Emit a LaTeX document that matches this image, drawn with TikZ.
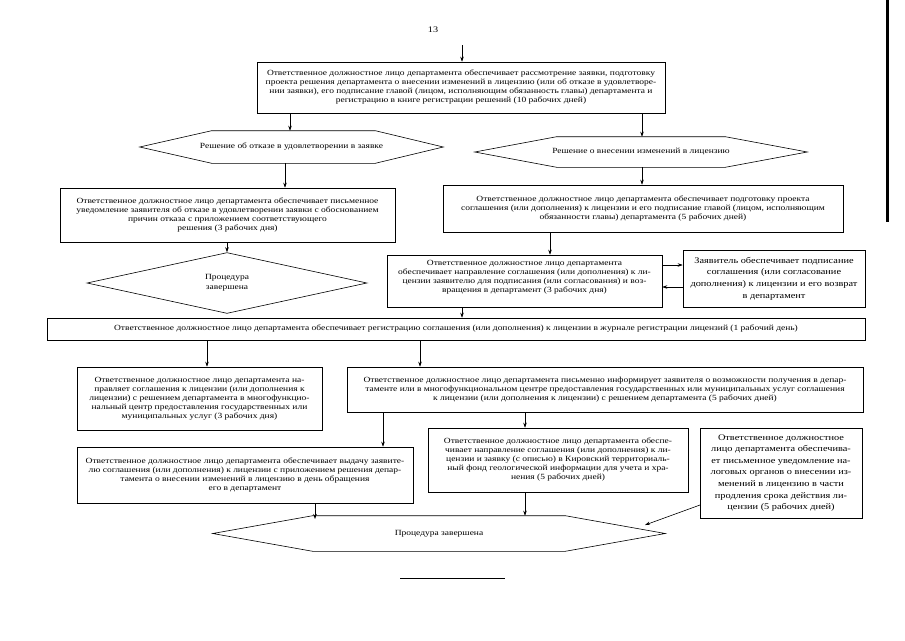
\documentclass[tikz,border=0pt]{standalone}
\usepackage{fontspec}
\setmainfont{Liberation Serif}
\newfontfamily\scan[FakeStretch=1.2]{Liberation Serif}
\usetikzlibrary{shapes.geometric,arrows.meta}
\begin{document}
\begin{tikzpicture}[x=1pt,y=-1pt,line width=0.6pt,
  box/.style={draw, rectangle, align=center, inner sep=0pt, font=\scan\fontsize{7.9}{9}\selectfont},
  bigbox/.style={box, font=\scan\fontsize{8.6}{11.6}\selectfont},
  hexa/.style={rectangle, inner sep=0pt, align=center, font=\scan\fontsize{7.9}{9}\selectfont},
  arr/.style={-{Stealth[length=5pt,width=3.5pt]}},
]
\useasboundingbox (0,0) rectangle (905,640);
\fill[white] (0,0) rectangle (905,640);

\node[font=\scan\fontsize{8.5}{10}\selectfont] (pg) at (433,30) {13};
\coordinate (top) at (462,45);

\node[box, minimum width=408pt, minimum height=51pt] (T) at (461,87.5)
 {Ответственное должностное лицо департамента обеспечивает рассмотрение заявки, подготовку\\
  проекта решения департамента о внесении изменений в лицензию (или об отказе в удовлетворе-\\
  нии заявки), его подписание главой (лицом, исполняющим обязанность главы) департамента и\\
  регистрацию в книге регистрации решений (10 рабочих дней)};

% hexagons: invisible frame node + outline
\node[hexa, minimum width=303pt, minimum height=32pt] (Lh) at (291.5,147)
 {Решение об отказе в удовлетворении в заявке};
\draw (Lh.west) -- ([xshift=72pt]Lh.north west) -- ([xshift=-68pt]Lh.north east) -- (Lh.east)
  -- ([xshift=-68pt]Lh.south east) -- ([xshift=72pt]Lh.south west) -- cycle;

\node[hexa, minimum width=332pt, minimum height=30pt] (Rh) at (641,152)
 {Решение о внесении изменений в лицензию};
\draw (Rh.west) -- ([xshift=82pt]Rh.north west) -- ([xshift=-82pt]Rh.north east) -- (Rh.east)
  -- ([xshift=-82pt]Rh.south east) -- ([xshift=82pt]Rh.south west) -- cycle;

\node[box, minimum width=335pt, minimum height=54pt] (A) at (227.5,215)
 {Ответственное должностное лицо департамента обеспечивает письменное\\
  уведомление заявителя об отказе в удовлетворении заявки с обоснованием\\
  причин отказа с приложением соответствующего\\
  решения (3 рабочих дня)};
\node[box, minimum width=400pt, minimum height=47pt] (B) at (643,208.5)
 {Ответственное должностное лицо департамента обеспечивает подготовку проекта\\
  соглашения (или дополнения) к лицензии и его подписание главой (лицом, исполняющим\\
  обязанности главы) департамента (5 рабочих дней)};

\node[draw, diamond, minimum width=280pt, minimum height=50pt, inner sep=0pt, align=center,
      font=\scan\fontsize{7.9}{10}\selectfont] (Dm) at (227,283) {Процедура\\завершена};

\node[box, minimum width=275pt, minimum height=52pt] (C) at (524.5,281)
 {Ответственное должностное лицо департамента\\
  обеспечивает направление соглашения (или дополнения) к ли-\\
  цензии заявителю для подписания (или согласования) и воз-\\
  вращения в департамент (3 рабочих дня)\\ ~};
\node[bigbox, minimum width=182pt, minimum height=57pt] (D) at (774,278.5)
 {Заявитель обеспечивает подписание\\
  соглашения (или согласование\\
  дополнения) к лицензии и его возврат\\
  в департамент};

\node[box, minimum width=818pt, minimum height=22pt] (E) at (456,329)
 {Ответственное должностное лицо департамента обеспечивает регистрацию соглашения (или дополнения) к лицензии в журнале регистрации лицензий (1 рабочий день)};

\node[box, minimum width=245pt, minimum height=63pt] (F) at (199.5,398.5)
 {Ответственное должностное лицо департамента на-\\
  правляет соглашения к лицензии (или дополнения к\\
  лицензии) с решением департамента в многофункцио-\\
  нальный центр предоставления государственных или\\
  муниципальных услуг (3 рабочих дня)};
\node[box, minimum width=516pt, minimum height=45pt] (G) at (605,389.5)
 {Ответственное должностное лицо департамента письменно информирует заявителя о возможности получения в депар-\\
  таменте или в многофункциональном центре предоставления государственных или муниципальных услуг соглашения\\
  к лицензии (или дополнения к лицензии) с решением департамента (5 рабочих дней)};

\node[box, minimum width=336pt, minimum height=56pt] (H) at (245,475)
 {Ответственное должностное лицо департамента обеспечивает выдачу заявите-\\
  лю соглашения (или дополнения) к лицензии с приложением решения депар-\\
  тамента о внесении изменений в лицензию в день обращения\\
  его в департамент};
\node[box, minimum width=260pt, minimum height=64pt] (I) at (558,460)
 {Ответственное должностное лицо департамента обеспе-\\
  чивает направление соглашения (или дополнения) к ли-\\
  цензии и заявку (с описью) в Кировский территориаль-\\
  ный фонд геологической информации для учета и хра-\\
  нения (5 рабочих дней)};
\node[bigbox, minimum width=162pt, minimum height=90pt] (J) at (781,473)
 {Ответственное должностное\\
  лицо департамента обеспечива-\\
  ет письменное уведомление на-\\
  логовых органов о внесении из-\\
  менений в лицензию в части\\
  продления срока действия ли-\\
  цензии (5 рабочих дней)};

\node[hexa, minimum width=452pt, minimum height=35pt] (Fh) at (439,533.5)
 {Процедура завершена};
\draw (Fh.west) -- ([xshift=100pt]Fh.north west) -- ([xshift=-100pt]Fh.north east) -- (Fh.east)
  -- ([xshift=-100pt]Fh.south east) -- ([xshift=100pt]Fh.south west) -- cycle;

% connector x positions
\coordinate (x290) at (290,0);
\coordinate (x285) at (285,0);
\coordinate (x642) at (642,0);
\coordinate (x227) at (227,0);
\coordinate (x550) at (550,0);
\coordinate (x462) at (462,0);
\coordinate (x207) at (207,0);
\coordinate (x420) at (420,0);
\coordinate (x383) at (383,0);
\coordinate (x525) at (525,0);
\coordinate (x315) at (315,519);
\coordinate (y265) at (0,265);
\coordinate (y287) at (0,287);
\coordinate (jst) at (700,505);
\coordinate (jend) at (645,525);

\draw[arr] (top) -- (T.north -| top);
\draw[arr] (T.south -| x290) -- (Lh.north -| x290);
\draw[arr] (T.south -| x642) -- (Rh.north -| x642);
\draw[arr] (Lh.south -| x285) -- (A.north -| x285);
\draw[arr] (Rh.south -| x642) -- (B.north -| x642);
\draw[arr] (A.south -| x227) -- (Dm.north);
\draw[arr] (B.south -| x550) -- (C.north -| x550);
\draw[arr] (C.east |- y265) -- (D.west |- y265);
\draw[arr] (D.west |- y287) -- (C.east |- y287);
\draw[arr] (C.south -| x462) -- (E.north -| x462);
\draw[arr] (E.south -| x207) -- (F.north -| x207);
\draw[arr] (E.south -| x420) -- (G.north -| x420);
\draw[arr] (G.south -| x383) -- (H.north -| x383);
\draw[arr] (G.south -| x525) -- (I.north -| x525);
\draw[arr] (H.south -| x315) -- (x315);
\draw[arr] (I.south -| x525) -- (Fh.north -| x525);
\draw[arr] (jst) -- (jend);

\draw (400,578) -- (505,578);
\draw[line width=3pt] (887,0) -- (887,222);
\end{tikzpicture}
\end{document}
